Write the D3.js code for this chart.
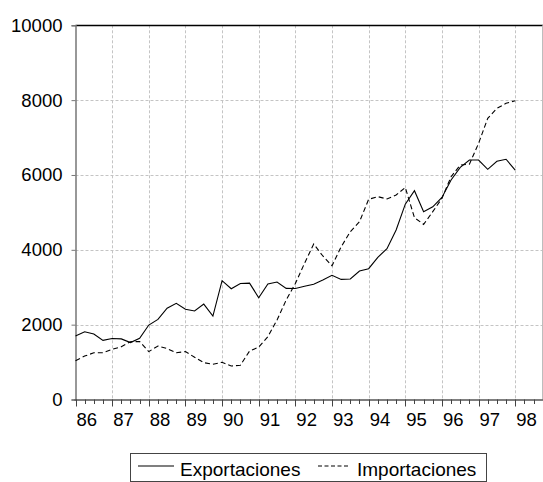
<!DOCTYPE html>
<html>
<head>
<meta charset="utf-8">
<script src="https://cdn.jsdelivr.net/npm/d3@7"></script>
<style>
  html, body { margin: 0; padding: 0; background: #fff; }
  svg { display: block; font-family: "Liberation Sans", Arial, sans-serif; }
</style>
</head>
<body>
<div id="chart"></div>
<script>
// Quarterly series, 1986Q1 .. 1998Q1
const startYear = 1986;
const exportaciones = [
  1700, 1810, 1750, 1580, 1630, 1620, 1520, 1635,
  1990, 2140, 2440, 2570, 2410, 2365, 2550, 2230,
  3175, 2960, 3100, 3110, 2720, 3085, 3140, 2970,
  2965, 3025, 3080, 3195, 3320, 3210, 3220, 3435,
  3495, 3800, 4030, 4530, 5220, 5580, 5020, 5150,
  5400, 5865, 6205, 6400, 6400, 6150, 6365, 6420,
  6130
];
const importaciones = [
  1037, 1160, 1250, 1250, 1340, 1410, 1545, 1550,
  1280, 1430, 1360, 1250, 1280, 1130, 985, 940,
  995, 895, 915, 1295, 1400, 1680, 2125, 2660,
  3100, 3640, 4155, 3835, 3575, 4080, 4485, 4750,
  5350, 5420, 5360, 5465, 5665, 4860, 4680, 5020,
  5375, 5955, 6265, 6290, 6845, 7515, 7780, 7915,
  7985
];
const yearTicks = [86, 87, 88, 89, 90, 91, 92, 93, 94, 95, 96, 97, 98];
const yTicks = [0, 2000, 4000, 6000, 8000, 10000];
const seriesNames = ["Exportaciones", "Importaciones"];

const width = 543, height = 482;
const plotL = 75.5, plotR = 542.7, plotT = 25.3, plotB = 399.5;

const svg = d3.select("#chart").append("svg")
  .attr("width", width)
  .attr("height", height);

const x = d3.scaleLinear().domain([1986, 1998.75]).range([plotL, plotR]);
const y = d3.scaleLinear().domain([0, 10000]).range([plotB, plotT]);

// grid
const grid = svg.append("g")
  .attr("stroke", "#c4c4c4")
  .attr("stroke-width", 1)
  .attr("stroke-dasharray", "3,2");
grid.selectAll("line.h")
  .data(yTicks.filter((d) => d > 0 && d < 10000))
  .enter().append("line")
  .attr("x1", plotL).attr("x2", plotR)
  .attr("y1", (d) => Math.round(y(d)) + 0.5)
  .attr("y2", (d) => Math.round(y(d)) + 0.5);
grid.selectAll("line.v")
  .data(yearTicks.slice(1))
  .enter().append("line")
  .attr("x1", (d) => Math.round(x(1900 + d)) + 0.5)
  .attr("x2", (d) => Math.round(x(1900 + d)) + 0.5)
  .attr("y1", plotT).attr("y2", plotB);

// frame: top black, right light gray
svg.append("line")
  .attr("x1", plotL).attr("x2", plotR + 0.5)
  .attr("y1", 25.5).attr("y2", 25.5)
  .attr("stroke", "#000").attr("stroke-width", 1.5);
svg.append("line")
  .attr("x1", 542.5).attr("x2", 542.5)
  .attr("y1", plotT).attr("y2", plotB)
  .attr("stroke", "#bdbdbd").attr("stroke-width", 1);

// y axis
const yAxis = svg.append("g")
  .attr("transform", `translate(${plotL},0)`)
  .call(d3.axisLeft(y).tickValues(yTicks).tickSize(4).tickPadding(9).tickFormat(d3.format("d")));
yAxis.select(".domain").attr("stroke", "#777").attr("stroke-width", 1.5);
yAxis.selectAll(".tick line").attr("stroke", "#777");
yAxis.selectAll(".tick text")
  .attr("font-size", 18.5)
  .attr("fill", "#000")
  .attr("font-family", "Liberation Sans, Arial, sans-serif");

// x axis with quarterly minor ticks
const quarters = d3.range(0, 51).map((i) => startYear + i / 4);
const xg = svg.append("g");
xg.append("line")
  .attr("x1", plotL - 1).attr("x2", plotR + 0.5)
  .attr("y1", plotB + 0.5).attr("y2", plotB + 0.5)
  .attr("stroke", "#555").attr("stroke-width", 1.5);
xg.selectAll("line.tick")
  .data(quarters)
  .enter().append("line")
  .attr("x1", (d) => Math.round(x(d)) + 0.5)
  .attr("x2", (d) => Math.round(x(d)) + 0.5)
  .attr("y1", plotB)
  .attr("y2", (d, i) => plotB + (i % 4 === 0 ? 7 : 4.5))
  .attr("stroke", "#444")
  .attr("stroke-width", 1);
xg.selectAll("text")
  .data(yearTicks)
  .enter().append("text")
  .attr("x", (d) => x(1900 + d) + 1)
  .attr("y", 426)
  .attr("font-size", 18.5)
  .attr("fill", "#000")
  .text((d) => d);

// lines
const t = (i) => startYear + i / 4;
const line = d3.line().x((d, i) => x(t(i))).y((d) => y(d));
svg.append("path")
  .datum(importaciones)
  .attr("fill", "none")
  .attr("stroke", "#000")
  .attr("stroke-width", 1.1)
  .attr("stroke-dasharray", "5,3")
  .attr("d", line);
svg.append("path")
  .datum(exportaciones)
  .attr("fill", "none")
  .attr("stroke", "#000")
  .attr("stroke-width", 1.1)
  .attr("d", line);

// legend
const lg = svg.append("g");
lg.append("rect")
  .attr("x", 130.5).attr("y", 453.5)
  .attr("width", 356).attr("height", 28)
  .attr("fill", "#fff")
  .attr("stroke", "#444").attr("stroke-width", 1);
lg.append("line")
  .attr("x1", 138).attr("x2", 174).attr("y1", 466).attr("y2", 466)
  .attr("stroke", "#000").attr("stroke-width", 1.1);
lg.append("text")
  .attr("x", 180).attr("y", 476)
  .attr("font-size", 19).text(seriesNames[0]);
lg.append("line")
  .attr("x1", 318).attr("x2", 348).attr("y1", 466).attr("y2", 466)
  .attr("stroke", "#000").attr("stroke-width", 1.1)
  .attr("stroke-dasharray", "4,2.5");
lg.append("text")
  .attr("x", 357).attr("y", 476)
  .attr("font-size", 19).text(seriesNames[1]);
</script>
</body>
</html>
